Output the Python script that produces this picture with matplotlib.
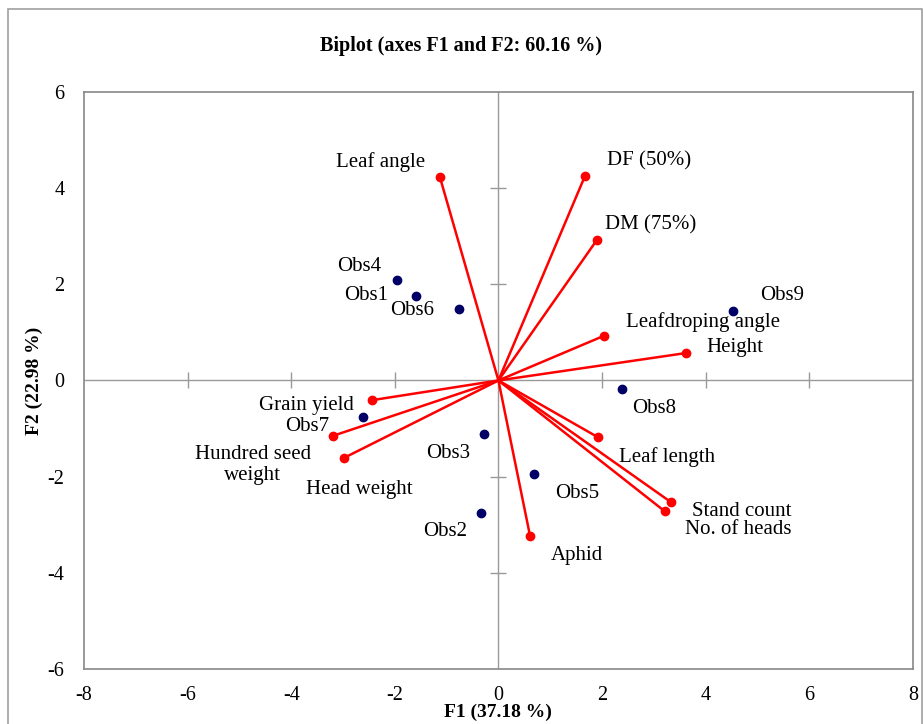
import matplotlib
matplotlib.use("Agg")
from matplotlib import pyplot as plt
from matplotlib.patches import Rectangle

plt.rcParams['font.family'] = ['Liberation Serif', 'DejaVu Serif']
plt.rcParams['axes.unicode_minus'] = False

# variables (loadings scaled)
var_names = ["Leaf angle", "DF (50%)", "DM (75%)", "Leafdroping angle", "Height",
             "Leaf length", "Stand count", "No. of heads", "Aphid", "Grain yield",
             "Hundred seed\nweight", "Head weight"]
var_x = [-1.13, 1.67, 1.90, 2.04, 3.62, 1.92, 3.33, 3.21, 0.61, -2.44, -3.19, -2.98]
var_y = [4.23, 4.25, 2.92, 0.93, 0.57, -1.18, -2.53, -2.72, -3.23, -0.41, -1.15, -1.61]

# observations
obs_names = ["Obs1", "Obs2", "Obs3", "Obs4", "Obs5", "Obs6", "Obs7", "Obs8", "Obs9"]
obs_x = [-1.59, -0.34, -0.28, -1.96, 0.69, -0.76, -2.62, 2.38, 4.53]
obs_y = [1.76, -2.76, -1.11, 2.09, -1.94, 1.49, -0.76, -0.18, 1.45]

# label offsets in points (layout only)
var_off = [(-43, 11), (46, 11), (39, 11), (71, 10), (35, 4), (50, -14), (51, -7),
           (53, -13), (34, -14), (-47, -4), (-58, -21), (11, -23)]
obs_off = [(-36, 0), (-26, -13), (-26, -14), (-27, 10), (31, -14), (-34, -1),
           (-40, -7), (23, -14), (35, 11)]

fig = plt.figure(figsize=(9.23, 7.24), dpi=100)
ax = fig.add_axes([0.091, 0.076, 0.898, 0.797])

fig.patches.append(Rectangle((0.009, -0.01), 0.99, 0.998, transform=fig.transFigure,
                             fill=False, edgecolor="#a0a0a0", linewidth=1.2))

ax.axhline(0, color="#999999", lw=1, zorder=1)
ax.axvline(0, color="#999999", lw=1, zorder=1)
xt = [-6, -4, -2, 2, 4, 6]
yt = [-4, -2, 2, 4]
ax.plot(xt, [0] * len(xt), ls="none", marker="|", ms=12, color="#999999", mew=1, zorder=1)
ax.plot([0] * len(yt), yt, ls="none", marker="_", ms=12, color="#999999", mew=1, zorder=1)

for x, y in zip(var_x, var_y):
    ax.plot([0, x], [0, y], color="#ff0000", lw=1.8, zorder=2)
ax.plot(var_x, var_y, ls="none", marker="o", ms=6, color="#ff0000", zorder=3)
ax.plot(obs_x, obs_y, ls="none", marker="o", ms=6, color="#000066", zorder=3)

for n, x, y, o in zip(var_names, var_x, var_y, var_off):
    ax.annotate(n, (x, y), xytext=o, textcoords="offset points", ha="center", va="center",
                fontsize=15, linespacing=1.15)
for n, x, y, o in zip(obs_names, obs_x, obs_y, obs_off):
    ax.annotate(n, (x, y), xytext=o, textcoords="offset points", ha="center", va="center",
                fontsize=15)

ax.set_xlim(-8, 8)
ax.set_ylim(-6, 6)
ax.set_xticks(range(-8, 9, 2))
ax.set_yticks(range(-6, 7, 2))
ax.tick_params(length=0, labelsize=14.5)
ax.tick_params(axis="x", pad=12)
ax.tick_params(axis="y", pad=14)
for s in ax.spines.values():
    s.set_color("#888888")
    s.set_linewidth(1.2)

ax.set_xlabel("F1 (37.18 %)", fontsize=14, fontweight="bold")
ax.set_ylabel("F2 (22.98 %)", fontsize=14, fontweight="bold")
ax.xaxis.set_label_coords(0.5, -0.061)
ax.yaxis.set_label_coords(-0.05, 0.5)
fig.text(0.5, 0.937, "Biplot (axes F1 and F2: 60.16 %)", ha="center", va="center",
         fontsize=14.5, fontweight="bold")

fig.savefig("out.png", dpi=100)
